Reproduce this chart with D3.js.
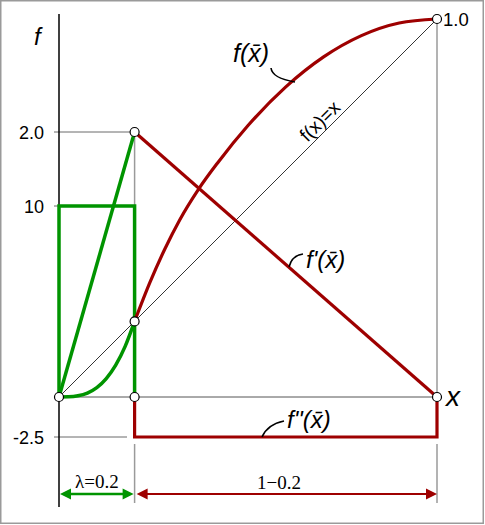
<!DOCTYPE html>
<html><head><meta charset="utf-8">
<script src="https://cdn.jsdelivr.net/npm/d3@7"></script>
<style>body{margin:0;background:#fff}svg{display:block}</style>
</head><body>
<script>
// ---- data ----
const lambda = 0.2;
const xStart = 0, xEnd = 1;
// f(x̄) for x < λ (green)
const fLeftX = [0, 0.025, 0.05, 0.075, 0.1, 0.125, 0.15, 0.175, 0.2];
const fLeftY = [0, 0.0004, 0.0031, 0.0105, 0.025, 0.0488, 0.0844, 0.134, 0.2];
// f(x̄) for x > λ (red)
const fRightX = [0.2, 0.24, 0.28, 0.32, 0.3685, 0.42, 0.5, 0.6, 0.7, 0.8, 0.9, 1.0];
const fRightY = [0.2, 0.3017, 0.3916, 0.4698, 0.5488, 0.6199, 0.7182, 0.8205, 0.8998, 0.9561, 0.9895, 1.0];
// f'(x̄)
const fpLeftX = [0, 0.2], fpLeftY = [0, 2.0];
const fpRightX = [0.2, 1.0], fpRightY = [2.0, 0];
// f''(x̄)
const fppLeft = 10, fppRight = -2.5;
// tick labels
const fpTickValue = 2.0, fpTickLabel = "2.0";
const fppTickValues = [10, -2.5], fppTickLabels = ["10", "-2.5"];
const fTickValue = 1.0, fTickLabel = "1.0";
const lambdaLabel = "λ=0.2", restLabel = "1−0.2";

// ---- drawing ----
const W = 485, H = 525;
const RED = "#9e0000", GREEN = "#009400", GRAY = "#9a9a9a";
const svg = d3.select("body").append("svg").attr("width", W).attr("height", H);

svg.append("rect").attr("x", 0.75).attr("y", 0.75).attr("width", 482.5).attr("height", 522.5)
  .attr("fill", "#fff").attr("stroke", GRAY).attr("stroke-width", 1.5);

const x = d3.scaleLinear().domain([xStart, xEnd]).range([59, 437]);
const yF = d3.scaleLinear().domain([0, 1]).range([397, 19]);
const yFp = d3.scaleLinear().domain([0, 2]).range([397, 132]);
const yFpp = d3.scaleLinear().domain([-2.5, 0, 10]).range([437, 397, 206]);

const x0 = x(xStart), xl = x(lambda), x1 = x(xEnd), y0 = yF(0);

// gray guide lines
const g = svg.append("g").attr("stroke", GRAY).attr("stroke-width", 1.5).attr("fill", "none");
g.append("line").attr("x1", xl).attr("x2", xl).attr("y1", yFp(fpTickValue)).attr("y2", y0);
g.append("line").attr("x1", xl).attr("x2", xl).attr("y1", 444).attr("y2", 503);
g.append("line").attr("x1", x1).attr("x2", x1).attr("y1", yF(fTickValue)).attr("y2", y0);
g.append("line").attr("x1", x1).attr("x2", x1).attr("y1", 444).attr("y2", 503);

// tick leader lines (left)
const tk = svg.append("g").attr("stroke", "#6a6a6a").attr("stroke-width", 1);
tk.append("line").attr("x1", 54).attr("x2", xl).attr("y1", yFp(fpTickValue)).attr("y2", yFp(fpTickValue));
fppTickValues.forEach((v, i) => {
  tk.append("line").attr("x1", 54).attr("x2", v > 0 ? xl : 127).attr("y1", yFpp(v)).attr("y2", yFpp(v));
});

// baseline
svg.append("line").attr("x1", x0).attr("x2", x1).attr("y1", y0).attr("y2", y0)
  .attr("stroke", "#555").attr("stroke-width", 1);
// y axis
svg.append("line").attr("x1", x0).attr("x2", x0).attr("y1", 14).attr("y2", 507)
  .attr("stroke", "#000").attr("stroke-width", 1.5);
// diagonal f(x)=x
svg.append("line").attr("x1", x(0)).attr("y1", yF(0)).attr("x2", x(1)).attr("y2", yF(1))
  .attr("stroke", "#000").attr("stroke-width", 0.8);

const line = (xs, ys, sx, sy, curve) => d3.line().x((d, i) => x(xs[i])).y((d, i) => sy(ys[i])).curve(curve || d3.curveLinear)(xs);

// green
const gg = svg.append("g").attr("fill", "none").attr("stroke", GREEN).attr("stroke-width", 3.5).attr("stroke-linejoin", "miter");
gg.append("path").attr("d", d3.line()([[x(0), yFpp(0)], [x(0), yFpp(fppLeft)], [x(lambda), yFpp(fppLeft)], [x(lambda), yFpp(0)]]));
gg.append("path").attr("d", line(fpLeftX, fpLeftY, x, yFp));
gg.append("path").attr("d", line(fLeftX, fLeftY, x, yF, d3.curveMonotoneX));

// red
const rg = svg.append("g").attr("fill", "none").attr("stroke", RED).attr("stroke-width", 3.2).attr("stroke-linejoin", "miter");
rg.append("path").attr("d", line(fRightX, fRightY, x, yF, d3.curveMonotoneX));
rg.append("path").attr("d", line(fpRightX, fpRightY, x, yFp));
rg.append("path").attr("d", d3.line()([[x(lambda), yFpp(0)], [x(lambda), yFpp(fppRight)], [x(1), yFpp(fppRight)], [x(1), yFpp(0)]]));

// leader curves
const lg = svg.append("g").attr("fill", "none").attr("stroke", "#000").attr("stroke-width", 1.6);
lg.append("path").attr("d", "M271,68 C272,76 283,80 295,82");
lg.append("path").attr("d", "M289,267 C291,259 296,255 303,254");
lg.append("path").attr("d", "M262,437 C266,428 274,423 284,421");

// circles
const pts = [[x(0), yF(0)], [x(lambda), yF(0)], [x(lambda), yF(lambda)], [x(lambda), yFp(fpTickValue)], [x(1), yF(fTickValue)], [x(1), yFp(0)]];
svg.selectAll("circle.pt").data(pts).enter().append("circle")
  .attr("cx", d => d[0]).attr("cy", d => d[1]).attr("r", 4.5)
  .attr("fill", "#fff").attr("stroke", "#000").attr("stroke-width", 1.2);

// text
const sans = "'Liberation Sans', Arial, sans-serif", serif = "'Liberation Serif', 'Times New Roman', serif";
const t = (xx, yy, s, size, opts = {}) => svg.append("text").attr("x", xx).attr("y", yy).text(s)
  .attr("font-family", opts.serif ? serif : sans).attr("font-size", size)
  .attr("font-style", opts.italic ? "italic" : "normal").attr("text-anchor", opts.anchor || "start").attr("fill", "#000");

t(34, 45, "f", 24, { italic: true });
t(44, yFp(fpTickValue) + 6.5, fpTickLabel, 18, { anchor: "end" });
fppTickValues.forEach((v, i) => t(44, yFpp(v) + 6.5, fppTickLabels[i], 18, { anchor: "end" }));
t(443, yF(fTickValue) + 7, fTickLabel, 18.5);
t(446, 406, "x", 28, { italic: true });
t(233, 62, "f(x̄)", 25, { italic: true });
t(306, 268, "f'(x̄)", 24, { italic: true });
t(287, 428, "f''(x̄)", 24, { italic: true });

svg.append("text").attr("transform", `translate(${x(0.71)},${yF(0.71)}) rotate(-45)`)
  .attr("y", -4).attr("text-anchor", "middle").attr("font-family", sans).attr("font-size", 19).text("f(x)=x");

// bottom arrows
const ay = 494;
function arrow(xa, xb, color, w, hl, hw) {
  svg.append("line").attr("x1", xa + hl - 1).attr("x2", xb - hl + 1).attr("y1", ay).attr("y2", ay)
    .attr("stroke", color).attr("stroke-width", w);
  svg.append("path").attr("d", `M${xa},${ay} L${xa + hl},${ay - hw} L${xa + hl},${ay + hw} Z`).attr("fill", color);
  svg.append("path").attr("d", `M${xb},${ay} L${xb - hl},${ay - hw} L${xb - hl},${ay + hw} Z`).attr("fill", color);
}
arrow(x0 + 1, xl - 1, GREEN, 2.5, 11, 5.5);
arrow(xl + 2, x1, RED, 2, 11, 5.5);
t((x0 + xl) / 2, 488, lambdaLabel, 19, { serif: true, anchor: "middle" });
t(279, 489, restLabel, 19, { serif: true, anchor: "middle" });
</script>
</body></html>
